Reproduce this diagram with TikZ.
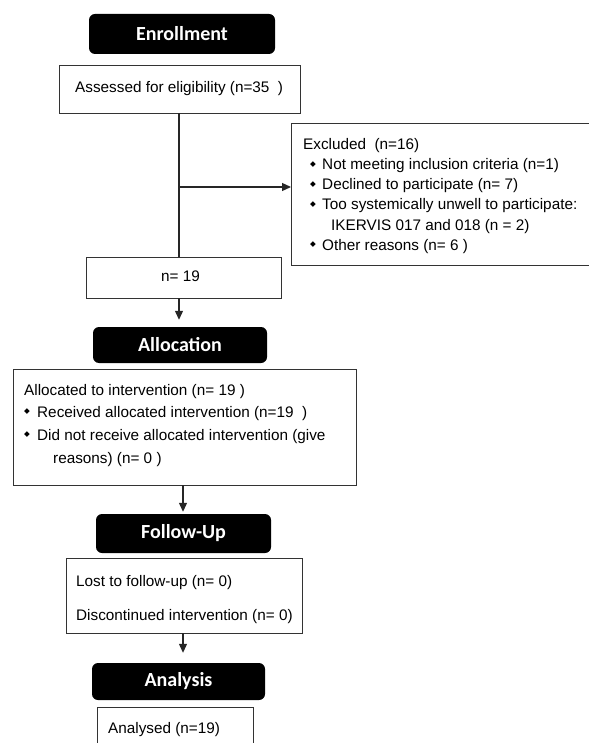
\documentclass[tikz,border=0pt]{standalone}
\usepackage{fontspec}
\setmainfont{Liberation Sans}
\newfontfamily\hdfont{Carlito}
\newfontfamily\symfont{DejaVu Sans}
\usetikzlibrary{arrows.meta}
\begin{document}
\begin{tikzpicture}[x=1pt,y=-1pt,
 box/.style={draw=black!80,line width=1.2pt,inner sep=0pt,anchor=north west},
 hdr/.style={fill=black,rounded corners=6pt,text=white,inner sep=0pt,font=\hdfont\bfseries\fontsize{20}{23}\selectfont},
 txt/.style={anchor=base west,inner sep=0pt,font=\fontsize{15.3}{18}\selectfont},
 bul/.style={anchor=base,inner sep=0pt,font=\symfont\fontsize{7.5}{8}\selectfont},
 arr/.style={draw=black!85,line width=1.2pt,-{Triangle[length=9pt,width=8pt]}},
 ln/.style={draw=black!85,line width=1.2pt}]
\useasboundingbox (0,0) rectangle (588,743);

% headers
\node[hdr,minimum width=186,minimum height=40] (enr) at (182,34) {Enrollment};
\node[hdr,minimum width=174,minimum height=36] (alh) at (180,345) {Allocation};
\node[hdr,minimum width=175,minimum height=39] (fuh) at (183.5,533.5) {Follow-Up};
\node[hdr,minimum width=173,minimum height=37] (anh) at (178.5,681.5) {Analysis};

% boxes
\node[box,minimum width=320,minimum height=142] (exc) at (291,123) {};
\node[box,minimum width=241,minimum height=48] (ass) at (59,65) {};
\node[box,minimum width=195,minimum height=41] (n19) at (86,257) {};
\node[box,minimum width=343,minimum height=116] (alc) at (13,369) {};
\node[box,minimum width=236,minimum height=75] (lost) at (66,558) {};
\node[box,minimum width=156,minimum height=50] (ana) at (97,707) {};

% texts
\node[txt] (t1) at (75,93) {Assessed for eligibility (n=35\ \ )};
\node[txt] (t2) at (303,150) {Excluded\ \ (n=16)};
\node[txt] (t3) at (322,170) {Not meeting inclusion criteria (n=1)};
\node[txt] (t4) at (322,190) {Declined to participate (n= 7)};
\node[txt] (t5) at (322,210) {Too systemically unwell to participate:};
\node[txt] (t6) at (331,230) {IKERVIS 017 and 018 (n = 2)};
\node[txt] (t7) at (322,250) {Other reasons (n= 6 )};
\node[bul] (b3) at (313,166.5) {◆};
\node[bul] (b4) at (313,186.5) {◆};
\node[bul] (b5) at (313,206.5) {◆};
\node[bul] (b7) at (313,246.5) {◆};
\node[txt] (t8) at (161,281) {n= 19};
\node[txt] (t9) at (24,395) {Allocated to intervention (n= 19 )};
\node[txt] (t10) at (37,417) {Received allocated intervention (n=19\ \ )};
\node[txt] (t11) at (37,440) {Did not receive allocated intervention (give};
\node[txt] (t12) at (53,463) {reasons) (n= 0 )};
\node[bul] (b10) at (27,413.5) {◆};
\node[bul] (b11) at (27,436.5) {◆};
\node[txt] (t13) at (76,586) {Lost to follow-up (n= 0)};
\node[txt] (t14) at (76,620) {Discontinued intervention (n= 0)};
\node[txt] (t15) at (108,733) {Analysed (n=19)};

% connectors
\coordinate (j1) at (179,187);
\coordinate (c1) at (179,113);
\draw[ln] (c1) -- (c1 |- n19.north);
\draw[arr] (j1) -- (j1 -| exc.west);
\coordinate (c2) at (179,298);
\draw[arr,shorten >=7pt] (c2) -- (c2 |- alh.north);
\coordinate (c3) at (183,485);
\draw[arr,shorten >=2pt] (c3) -- (c3 |- fuh.north);
\coordinate (c4) at (183,633);
\draw[arr,shorten >=10pt] (c4) -- (c4 |- anh.north);
\end{tikzpicture}
\end{document}
